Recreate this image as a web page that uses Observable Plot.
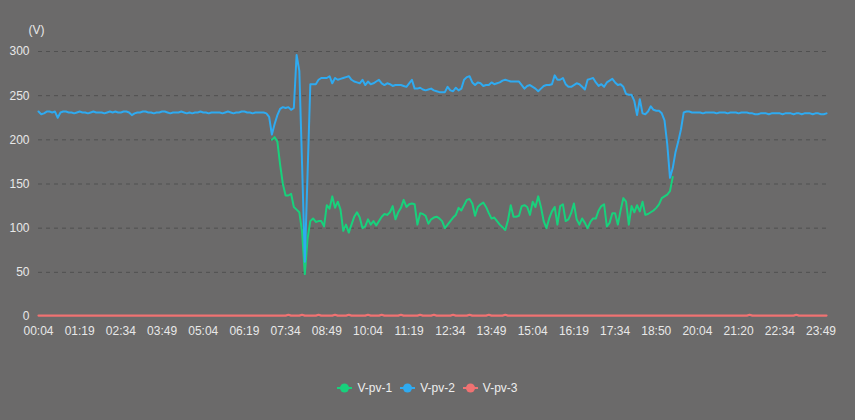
<!DOCTYPE html>
<html>
<head>
<meta charset="utf-8">
<script src="https://cdn.jsdelivr.net/npm/d3@7"></script>
<script src="https://cdn.jsdelivr.net/npm/@observablehq/plot@0.6"></script>
<style>
  html, body { margin: 0; padding: 0; background: #6b6a6a; width: 855px; height: 420px; overflow: hidden; }
  #chart svg { display: block; }
  #legend { display: flex; justify-content: center; align-items: center; margin-top: 18px; height: 20px;
    font: 12px "Liberation Sans", Arial, sans-serif; color: #eeeeee; }
  .item { display: flex; align-items: center; margin: 0 4px; }
  .item svg { margin-right: 5px; }
</style>
</head>
<body>
<div id="chart"></div>
<div id="legend"></div>
<script>
// x-axis tick labels (one every 15 samples, 5-minute samples)
const tickLabels = ["00:04","01:19","02:34","03:49","05:04","06:19","07:34","08:49","10:04","11:19",
  "12:34","13:49","15:04","16:19","17:34","18:50","20:04","21:20","22:34","23:49"];
const labelEvery = 15;
const sampleCount = 288;

const yTicks = [0, 50, 100, 150, 200, 250, 300];

// V-pv-2 (all samples)
const pv2 = [
  232,229,230,232,232,231,232,225,231,232,
  232,231,231,230,231,232,231,231,230,231,
  232,231,231,231,230,231,232,231,232,231,
  231,232,232,231,228,230,231,231,232,232,
  231,231,230,231,231,232,232,231,230,231,
  231,231,232,231,230,231,230,231,231,232,
  231,231,230,231,231,231,231,230,231,232,
  231,230,231,231,232,232,231,231,230,231,
  231,231,231,230,226,206,218,228,235,237,
  236,237,234,236,296,278,172,62,162,263,
  263,263,268,270,270,270,272,264,270,268,
  269,270,271,272,268,266,265,264,268,262,
  266,263,264,266,268,264,262,264,263,261,
  262,262,262,261,260,264,268,258,258,259,
  257,256,257,258,256,255,254,254,254,260,
  256,255,259,256,258,268,271,272,265,262,
  265,264,261,262,262,265,263,264,265,267,
  268,267,266,266,266,266,262,258,261,262,
  260,258,255,258,261,262,262,263,273,268,
  268,270,263,260,260,262,264,263,260,257,
  268,269,270,265,261,263,260,265,267,269,
  265,262,263,260,252,251,251,244,228,246,
  230,229,232,238,234,233,233,230,222,195,
  157,168,186,198,212,231,232,232,231,231,
  231,231,230,231,231,231,231,230,231,231,
  231,230,231,231,231,230,231,231,231,230,
  230,229,229,230,230,230,229,230,230,230,
  230,229,230,230,230,229,230,230,229,230,
  230,230,229,230,230,229,229,230
];

// V-pv-1 (present from sample 85 to 231)
const pv1Start = 85;
const pv1 = [
  200,203,198,172,150,
  137,137,139,124,121,118,96,48,88,108,
  111,107,108,108,102,126,122,136,123,130,
  121,97,104,95,104,113,118,112,100,102,
  110,104,108,103,108,113,116,115,118,125,
  110,118,123,132,124,127,128,127,104,117,
  116,114,105,110,112,113,111,108,100,104,
  108,112,115,123,120,126,132,133,128,114,
  124,127,129,124,117,111,112,108,104,101,
  98,109,126,113,113,114,125,126,124,115,
  130,124,136,124,108,100,111,119,124,104,
  125,127,108,110,117,128,110,104,111,106,
  100,107,111,111,120,125,127,102,106,117,
  117,104,120,134,130,104,125,118,126,119,
  130,115,116,118,120,123,127,134,136,138,
  142,158
];

// V-pv-3 (all samples, near zero)
const pv3 = [
  1,1,1,1,1,1,1,1,1,1, 1,1,1,1,1,1,1,1,1,1, 1,1,1,1,1,1,1,1,1,1,
  1,1,1,1,1,1,1,1,1,1, 1,1,1,1,1,1,1,1,1,1, 1,1,1,1,1,1,1,1,1,1,
  1,1,1,1,1,1,1,1,1,1, 1,1,1,1,1,1,1,1,1,1, 1,1,1,1,1,1,1,1,1,1,
  1,2,1,1,1,1,2,1,1,1, 1,1,2,1,1,1,1,1,2,1, 1,1,1,2,1,1,1,1,1,1,
  2,1,1,1,1,2,1,1,1,1, 1,1,2,1,1,1,1,1,1,2, 1,1,1,1,2,1,1,1,1,1,
  1,2,1,1,1,1,1,2,1,1, 1,1,1,1,2,1,1,1,1,1, 2,1,1,1,1,1,1,1,1,1,
  1,1,1,1,1,1,1,1,1,1, 1,1,1,1,1,1,1,1,1,1, 1,1,1,1,1,1,1,1,1,1,
  1,1,1,1,1,1,1,1,1,1, 1,1,1,1,1,1,1,1,1,1, 1,1,1,1,1,1,1,1,1,1,
  1,1,1,1,1,1,1,1,1,1, 1,1,1,1,1,1,1,1,1,2, 1,1,1,1,1,1,1,1,1,1,
  1,1,1,1,1,1,2,1,1,1, 1,1,1,1,1,1,1,1,1,1, 1,1,1,1,1,1,1,1,1,1
].slice(0, sampleCount);

const seriesNames = ["V-pv-1", "V-pv-2", "V-pv-3"];
const seriesColors = ["#18d17c", "#2faaf0", "#f07272"];

const d1 = pv1.map((v, i) => ({i: i + pv1Start, v}));
const d2 = pv2.map((v, i) => ({i, v}));
const d3 = pv3.map((v, i) => ({i, v}));

const xTicks = tickLabels.map((_, k) => k * labelEvery);

const chart = Plot.plot({
  width: 855,
  height: 360,
  marginLeft: 38,
  marginRight: 29,
  marginTop: 51,
  marginBottom: 44,
  style: {background: "transparent", color: "#e8e8e8", fontSize: "12px",
          fontFamily: "'Liberation Sans', Arial, sans-serif"},
  x: {domain: [0, sampleCount - 1]},
  y: {domain: [0, 300]},
  marks: [
    Plot.gridY(yTicks.filter((t) => t > 0), {stroke: "#505050", strokeOpacity: 1, strokeDasharray: "4,4"}),
    Plot.axisY(yTicks, {tickSize: 0, tickPadding: 9, label: null, fontSize: 12, fill: "#e8e8e8"}),
    Plot.axisX(xTicks, {tickSize: 0, tickPadding: 10, label: null, fontSize: 12, fill: "#e8e8e8",
      tickFormat: (d) => tickLabels[d / labelEvery]}),
    Plot.text(["(V)"], {frameAnchor: "top-left", dy: -26, dx: -2, textAnchor: "middle", fill: "#e8e8e8", fontSize: 12}),
    Plot.lineY(d1, {x: "i", y: "v", stroke: seriesColors[0], strokeWidth: 2}),
    Plot.lineY(d2, {x: "i", y: "v", stroke: seriesColors[1], strokeWidth: 2}),
    Plot.lineY(d3, {x: "i", y: "v", stroke: seriesColors[2], strokeWidth: 2.2})
  ]
});
document.getElementById("chart").appendChild(chart);

const legend = document.getElementById("legend");
seriesNames.forEach((name, k) => {
  const item = document.createElement("div");
  item.className = "item";
  item.innerHTML = `<svg width="15" height="10"><line x1="0" x2="15" y1="5" y2="5" stroke="${seriesColors[k]}" stroke-width="2"/><circle cx="7.5" cy="5" r="4.5" fill="${seriesColors[k]}"/></svg><span>${name}</span>`;
  legend.appendChild(item);
});
</script>
</body>
</html>
